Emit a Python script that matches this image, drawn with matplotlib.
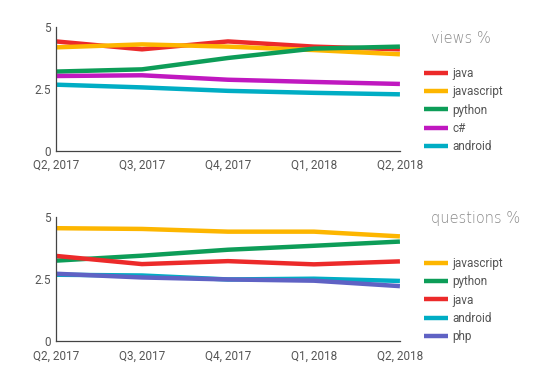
import matplotlib.pyplot as plt

plt.rcParams["font.family"] = ["Roboto", "DejaVu Sans"]

quarters = ["Q2, 2017", "Q3, 2017", "Q4, 2017", "Q1, 2018", "Q2, 2018"]

# views %
views_java = [4.43, 4.11, 4.43, 4.22, 4.11]
views_javascript = [4.19, 4.31, 4.22, 4.08, 3.91]
views_python = [3.21, 3.30, 3.76, 4.14, 4.22]
views_csharp = [3.03, 3.06, 2.88, 2.79, 2.71]
views_android = [2.68, 2.57, 2.43, 2.35, 2.29]

# questions %
q_javascript = [4.56, 4.53, 4.42, 4.42, 4.23]
q_python = [3.25, 3.45, 3.69, 3.85, 4.02]
q_java = [3.44, 3.11, 3.23, 3.10, 3.22]
q_android = [2.68, 2.65, 2.49, 2.52, 2.43]
q_php = [2.72, 2.57, 2.49, 2.44, 2.22]

colors = {
    "java": "#ec2a2a",
    "javascript": "#fdb600",
    "python": "#0d9d58",
    "c#": "#c018c0",
    "android": "#00adc4",
    "php": "#5f62c4",
}

panels = [
    ("views %", [("java", views_java), ("javascript", views_javascript),
                 ("python", views_python), ("c#", views_csharp),
                 ("android", views_android)], 0.913),
    ("questions %", [("javascript", q_javascript), ("python", q_python),
                     ("java", q_java), ("android", q_android),
                     ("php", q_php)], 0.99),
]

fig = plt.figure(figsize=(5.45, 3.85), dpi=100)
positions = [[0.1028, 0.608, 0.631, 0.321], [0.1028, 0.114, 0.631, 0.3216]]
x = list(range(len(quarters)))

for pos, (title, series, title_y) in zip(positions, panels):
    ax = fig.add_axes(pos)
    for name, vals in series:
        ax.plot(x, vals, color=colors[name], lw=3.2, label=name,
                solid_capstyle="butt")
    ax.set_xlim(0, 4)
    ax.set_ylim(0, 5)
    ax.set_yticks([0, 2.5, 5])
    ax.set_yticklabels(["0", "2.5", "5"])
    ax.set_xticks(x)
    ax.set_xticklabels(quarters)
    for s in ["top", "right"]:
        ax.spines[s].set_visible(False)
    for s in ["left", "bottom"]:
        ax.spines[s].set_color("#444444")
        ax.spines[s].set_linewidth(0.9)
    ax.tick_params(length=0, labelsize=8.5, colors="#555555")
    ax.tick_params(axis="x", pad=6)
    ax.tick_params(axis="y", pad=4)
    leg = ax.legend(loc="center left", bbox_to_anchor=(1.07, 0.331),
                    frameon=False, fontsize=8.5, handlelength=2.0,
                    handletextpad=0.4, labelspacing=0.45,
                    borderaxespad=0, borderpad=0)
    for t in leg.get_texts():
        t.set_color("#555555")
    ax.text(1.09, title_y, title, transform=ax.transAxes, fontsize=10.5,
            color="#888888", ha="left", va="center", family=["DejaVu Sans"],
            fontweight="light")

fig.savefig("out.png", dpi=100)
